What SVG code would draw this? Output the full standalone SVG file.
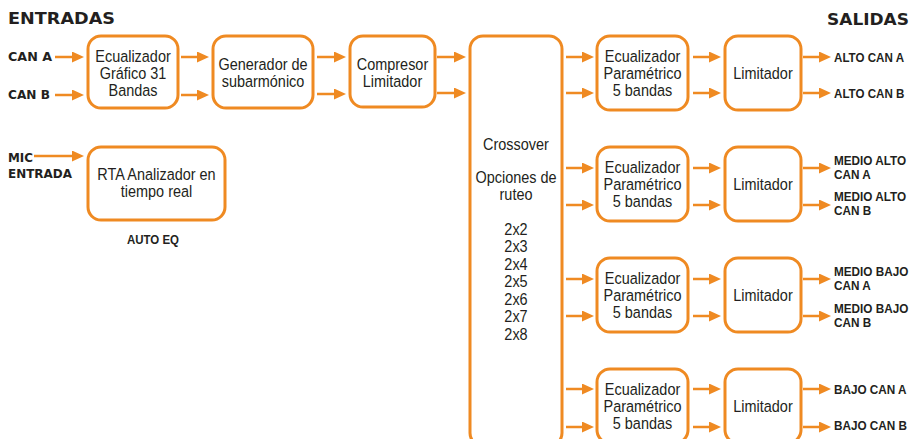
<svg xmlns="http://www.w3.org/2000/svg" width="913" height="439" viewBox="0 0 913 439">
<style>
.box{fill:#fff;stroke:#EF8A22;stroke-width:3}
.ar{stroke:#EF8A22;stroke-width:2.5;fill:none;marker-end:url(#ah)}
.t{font-family:"Liberation Sans",Arial,sans-serif;font-size:17px;fill:#231f20;text-anchor:middle}
.h{font-family:"DejaVu Sans",Verdana,sans-serif;font-weight:bold;fill:#231f20}
.c{font-family:"Liberation Sans",Arial,sans-serif;font-weight:bold;font-size:13.5px;fill:#231f20}
</style>
<defs>
<marker id="ah" markerUnits="userSpaceOnUse" markerWidth="12" markerHeight="11" refX="4" refY="5.5" orient="auto">
<path d="M0,0 L12,5.5 L0,11 Z" fill="#EF8A22"/>
</marker>
</defs>
<rect width="913" height="439" fill="#fff"/>

<g id="titles">
<text class="h" x="8" y="24" font-size="15" textLength="107" lengthAdjust="spacingAndGlyphs">ENTRADAS</text>
<text class="h" x="827" y="25" font-size="15" textLength="82" lengthAdjust="spacingAndGlyphs">SALIDAS</text>
</g>

<g id="inputs">
<text class="h" x="8" y="61" font-size="12.5" textLength="44" lengthAdjust="spacingAndGlyphs">CAN A</text>
<text class="h" x="8" y="99" font-size="12.5" textLength="42" lengthAdjust="spacingAndGlyphs">CAN B</text>
<text class="h" x="8" y="162" font-size="12.5" textLength="25" lengthAdjust="spacingAndGlyphs">MIC</text>
<text class="h" x="8" y="178" font-size="12.5" textLength="64" lengthAdjust="spacingAndGlyphs">ENTRADA</text>
</g>

<g id="geq">
<rect class="box" x="88" y="36" width="90" height="72" rx="13"/>
<text class="t" transform="translate(133 0) scale(0.85 1)"><tspan x="0" y="62">Ecualizador</tspan><tspan x="0" y="79">Gráfico 31</tspan><tspan x="0" y="96">Bandas</tspan></text>
</g>
<g id="sub">
<rect class="box" x="213" y="36" width="100" height="72" rx="13"/>
<text class="t" transform="translate(263 0) scale(0.85 1)"><tspan x="0" y="70">Generador de</tspan><tspan x="0" y="87">subarmónico</tspan></text>
</g>
<g id="comp">
<rect class="box" x="350" y="36" width="85" height="71" rx="13"/>
<text class="t" transform="translate(392.5 0) scale(0.85 1)"><tspan x="0" y="70">Compresor</tspan><tspan x="0" y="87">Limitador</tspan></text>
</g>
<g id="rta">
<rect class="box" x="88" y="147" width="137" height="73" rx="13"/>
<text class="t" transform="translate(156.5 0) scale(0.85 1)"><tspan x="0" y="180">RTA Analizador en</tspan><tspan x="0" y="197">tiempo real</tspan></text>
<text class="c" x="127" y="244" textLength="52" lengthAdjust="spacingAndGlyphs">AUTO EQ</text>
</g>
<g id="crossover">
<rect class="box" x="470" y="36" width="92" height="410" rx="13"/>
<text class="t" transform="translate(516 0) scale(0.85 1)"><tspan x="0" y="150">Crossover</tspan><tspan x="0" y="183">Opciones de</tspan><tspan x="0" y="200">ruteo</tspan><tspan x="0" y="235">2x2</tspan><tspan x="0" y="252.5">2x3</tspan><tspan x="0" y="270">2x4</tspan><tspan x="0" y="287.5">2x5</tspan><tspan x="0" y="305">2x6</tspan><tspan x="0" y="322.5">2x7</tspan><tspan x="0" y="340">2x8</tspan></text>
</g>

<g id="peq1">
<rect class="box" x="597" y="36" width="91" height="74" rx="13"/>
<text class="t" transform="translate(642.5 0) scale(0.85 1)"><tspan x="0" y="62">Ecualizador</tspan><tspan x="0" y="79">Paramétrico</tspan><tspan x="0" y="96">5 bandas</tspan></text>
</g>
<g id="lim1">
<rect class="box" x="725" y="36" width="76" height="74" rx="13"/>
<text class="t" transform="translate(763 0) scale(0.85 1)" x="0" y="79">Limitador</text>
</g>
<g id="peq2">
<rect class="box" x="597" y="147" width="91" height="74" rx="13"/>
<text class="t" transform="translate(642.5 0) scale(0.85 1)"><tspan x="0" y="173">Ecualizador</tspan><tspan x="0" y="190">Paramétrico</tspan><tspan x="0" y="207">5 bandas</tspan></text>
</g>
<g id="lim2">
<rect class="box" x="725" y="147" width="76" height="74" rx="13"/>
<text class="t" transform="translate(763 0) scale(0.85 1)" x="0" y="190">Limitador</text>
</g>
<g id="peq3">
<rect class="box" x="597" y="258" width="91" height="74" rx="13"/>
<text class="t" transform="translate(642.5 0) scale(0.85 1)"><tspan x="0" y="284">Ecualizador</tspan><tspan x="0" y="301">Paramétrico</tspan><tspan x="0" y="318">5 bandas</tspan></text>
</g>
<g id="lim3">
<rect class="box" x="725" y="258" width="76" height="74" rx="13"/>
<text class="t" transform="translate(763 0) scale(0.85 1)" x="0" y="301">Limitador</text>
</g>
<g id="peq4">
<rect class="box" x="597" y="369" width="91" height="74" rx="13"/>
<text class="t" transform="translate(642.5 0) scale(0.85 1)"><tspan x="0" y="395">Ecualizador</tspan><tspan x="0" y="412">Paramétrico</tspan><tspan x="0" y="429">5 bandas</tspan></text>
</g>
<g id="lim4">
<rect class="box" x="725" y="369" width="76" height="74" rx="13"/>
<text class="t" transform="translate(763 0) scale(0.85 1)" x="0" y="412">Limitador</text>
</g>

<g id="outputs">
<text class="c" transform="translate(834 0) scale(0.86 1)" x="0" y="62">ALTO CAN A</text>
<text class="c" transform="translate(834 0) scale(0.86 1)" x="0" y="98">ALTO CAN B</text>
<text class="c" transform="translate(834 0) scale(0.87 1)" x="0" y="165">MEDIO ALTO</text>
<text class="c" transform="translate(834 0) scale(0.87 1)" x="0" y="179">CAN A</text>
<text class="c" transform="translate(834 0) scale(0.87 1)" x="0" y="201">MEDIO ALTO</text>
<text class="c" transform="translate(834 0) scale(0.87 1)" x="0" y="215">CAN B</text>
<text class="c" transform="translate(834 0) scale(0.87 1)" x="0" y="276">MEDIO BAJO</text>
<text class="c" transform="translate(834 0) scale(0.87 1)" x="0" y="290">CAN A</text>
<text class="c" transform="translate(834 0) scale(0.87 1)" x="0" y="313">MEDIO BAJO</text>
<text class="c" transform="translate(834 0) scale(0.87 1)" x="0" y="327">CAN B</text>
<text class="c" transform="translate(834 0) scale(0.87 1)" x="0" y="394">BAJO CAN A</text>
<text class="c" transform="translate(834 0) scale(0.87 1)" x="0" y="430">BAJO CAN B</text>
</g>

<g id="connectors">
<line class="ar" x1="55" y1="57" x2="76" y2="57"/>
<line class="ar" x1="55" y1="95" x2="76" y2="95"/>
<line class="ar" x1="34" y1="156" x2="76" y2="156"/>
<line class="ar" x1="181" y1="57" x2="201" y2="57"/>
<line class="ar" x1="181" y1="95" x2="201" y2="95"/>
<line class="ar" x1="317" y1="57" x2="338" y2="57"/>
<line class="ar" x1="317" y1="94" x2="338" y2="94"/>
<line class="ar" x1="437" y1="57" x2="458" y2="57"/>
<line class="ar" x1="437" y1="93" x2="458" y2="93"/>

<line class="ar" x1="566" y1="57" x2="586" y2="57"/>
<line class="ar" x1="566" y1="93" x2="586" y2="93"/>
<line class="ar" x1="693" y1="57" x2="713" y2="57"/>
<line class="ar" x1="693" y1="93" x2="713" y2="93"/>
<line class="ar" x1="803" y1="57" x2="823" y2="57"/>
<line class="ar" x1="803" y1="93" x2="823" y2="93"/>

<line class="ar" x1="566" y1="168" x2="586" y2="168"/>
<line class="ar" x1="566" y1="205" x2="586" y2="205"/>
<line class="ar" x1="693" y1="168" x2="713" y2="168"/>
<line class="ar" x1="693" y1="205" x2="713" y2="205"/>
<line class="ar" x1="803" y1="168" x2="823" y2="168"/>
<line class="ar" x1="803" y1="205" x2="823" y2="205"/>

<line class="ar" x1="566" y1="279" x2="586" y2="279"/>
<line class="ar" x1="566" y1="316" x2="586" y2="316"/>
<line class="ar" x1="693" y1="279" x2="713" y2="279"/>
<line class="ar" x1="693" y1="316" x2="713" y2="316"/>
<line class="ar" x1="803" y1="279" x2="823" y2="279"/>
<line class="ar" x1="803" y1="316" x2="823" y2="316"/>

<line class="ar" x1="566" y1="389" x2="586" y2="389"/>
<line class="ar" x1="566" y1="427" x2="586" y2="427"/>
<line class="ar" x1="693" y1="389" x2="713" y2="389"/>
<line class="ar" x1="693" y1="427" x2="713" y2="427"/>
<line class="ar" x1="803" y1="389" x2="823" y2="389"/>
<line class="ar" x1="803" y1="427" x2="823" y2="427"/>
</g>
</svg>
